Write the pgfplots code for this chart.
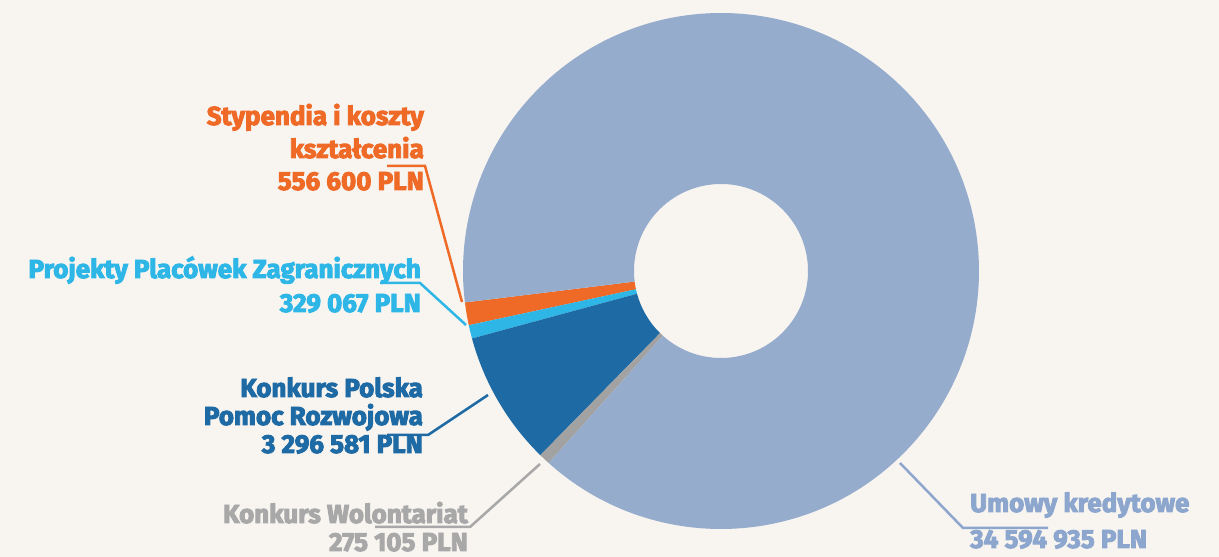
\documentclass[border=0pt]{standalone}
\usepackage{fontspec}
\setmainfont{Fira Sans}[BoldFeatures={FakeBold=3.5}]
\usepackage{xfp}
\usepackage{pgfplots}
\pgfplotsset{compat=1.18}
\usepackage{pgfplotstable}
\definecolor{bg}{RGB}{248,245,241}
\definecolor{cUm}{RGB}{150,172,205}
\definecolor{cOr}{RGB}{238,106,38}
\definecolor{cCy}{RGB}{45,182,230}
\definecolor{cDb}{RGB}{30,106,164}
\definecolor{cGr}{RGB}{162,162,162}
\definecolor{tUm}{RGB}{140,166,206}
\definecolor{tGr}{RGB}{168,168,168}

\pgfplotstableread{
name value
Stypendia 556600
Projekty 329067
PPR 3296581
Wolontariat 275105
Umowy 34594935
}\data

\pgfplotstablegetelem{0}{value}\of\data\edef\va{\pgfplotsretval}
\pgfplotstablegetelem{1}{value}\of\data\edef\vb{\pgfplotsretval}
\pgfplotstablegetelem{2}{value}\of\data\edef\vc{\pgfplotsretval}
\pgfplotstablegetelem{3}{value}\of\data\edef\vd{\pgfplotsretval}
\pgfplotstablegetelem{4}{value}\of\data\edef\ve{\pgfplotsretval}
\edef\tot{\fpeval{\va+\vb+\vc+\vd+\ve}}
\def\aO{187}
\edef\aA{\fpeval{round(\aO+360*\va/\tot,3)}}
\edef\aB{\fpeval{round(\aA+360*\vb/\tot,3)}}
\edef\aC{\fpeval{round(\aB+360*\vc/\tot,3)}}
\edef\aD{\fpeval{round(\aC+360*\vd/\tot,3)}}
\edef\aE{\fpeval{round(\aD+360*\ve/\tot,3)}}

\newcommand\slice[3]{%
  \fill[#1] ([shift={(#2:258pt)}]axis cs:721,286) arc[start angle=#2,end angle=#3,radius=258pt]
    -- ([shift={(#3:87pt)}]axis cs:721,286) arc[start angle=#3,end angle=#2,radius=87pt] -- cycle;}
\newcommand\lbl{\fontsize{26}{30}\selectfont\bfseries}

\begin{document}
\begin{tikzpicture}
\begin{axis}[
  x=1pt, y=1pt,
  xmin=0, xmax=1219, ymin=0, ymax=557,
  hide axis, clip=false,
]
\fill[bg] (axis cs:0,0) rectangle (axis cs:1219,557);
\slice{cOr}{\aO}{\aA}
\slice{cCy}{\aA}{\aB}
\slice{cDb}{\aB}{\aC}
\slice{cGr}{\aC}{\aD}
\slice{cUm}{\aD}{\aE}

% leader lines
\draw[cOr, line width=2.5pt] (axis cs:387,391) -- (axis cs:425,391) -- (axis cs:462,255);
\draw[cCy, line width=2.5pt] (axis cs:380,274) -- (axis cs:420,274) -- (axis cs:466,232);
\draw[cDb, line width=2.5pt] (axis cs:387,122) -- (axis cs:428,122) -- (axis cs:488,162);
\draw[tGr, line width=2.5pt] (axis cs:375,30) -- (axis cs:470,30) -- (axis cs:540,93);
\draw[tUm, line width=2.5pt] (axis cs:900,94) -- (axis cs:963,29) -- (axis cs:1048,29);

% labels
\node[anchor=base east, text=cOr, font=\lbl, inner sep=0pt] at (axis cs:424,432) {Stypendia i koszty};
\node[anchor=base east, text=cOr, font=\lbl, inner sep=0pt] at (axis cs:424,399) {kształcenia};
\node[anchor=base east, text=cOr, font=\lbl, inner sep=0pt] at (axis cs:424,367) {556 600 PLN};

\node[anchor=base east, text=cCy, font=\lbl, inner sep=0pt] at (axis cs:421,279) {Projekty Placówek Zagranicznych};
\node[anchor=base east, text=cCy, font=\lbl, inner sep=0pt] at (axis cs:421,245) {329 067 PLN};

\node[anchor=base east, text=cDb, font=\lbl, inner sep=0pt] at (axis cs:423,160) {Konkurs Polska};
\node[anchor=base east, text=cDb, font=\lbl, inner sep=0pt] at (axis cs:423,132) {Pomoc Rozwojowa};
\node[anchor=base east, text=cDb, font=\lbl, inner sep=0pt] at (axis cs:423,104) {3 296 581 PLN};

\node[anchor=base east, text=tGr, font=\lbl, inner sep=0pt] at (axis cs:468,34) {Konkurs Wolontariat};
\node[anchor=base east, text=tGr, font=\lbl, inner sep=0pt] at (axis cs:468,6) {275 105 PLN};

\node[anchor=base west, text=tUm, font=\lbl, inner sep=0pt] at (axis cs:970,45) {Umowy kredytowe};
\node[anchor=base west, text=tUm, font=\lbl, inner sep=0pt] at (axis cs:970,9) {34 594 935 PLN};
\end{axis}
\pgfresetboundingbox
\path (current axis.south west) rectangle (current axis.north east);
\end{tikzpicture}
\end{document}
